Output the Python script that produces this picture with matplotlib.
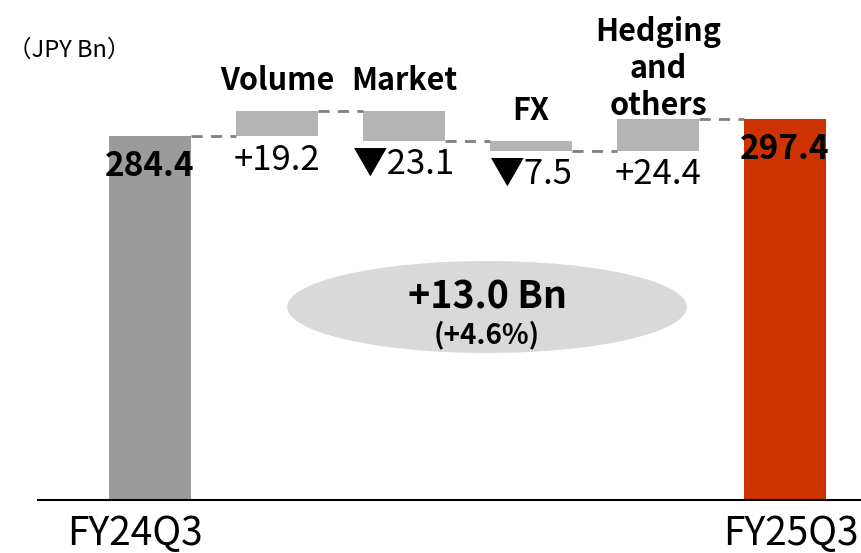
import matplotlib
matplotlib.use('Agg')
import matplotlib.pyplot as plt
from matplotlib.patches import Ellipse

plt.rcParams['font.family'] = ['Noto Sans CJK JP', 'DejaVu Sans']

# data
start_label = 'FY24Q3'
end_label = 'FY25Q3'
start_value = 284.4
end_value = 297.4
steps = ['Volume', 'Market', 'FX', 'Hedging\nand\nothers']
deltas = [19.2, -23.1, -7.5, 24.4]
total_change = '+13.0 Bn'
total_pct = '(+4.6%)'
unit = '（JPY Bn）'

GRAY_BASE = '#9b9b9b'
GRAY_STEP = '#b4b4b4'
RED = '#cc3300'
WIDTH = 0.645

fig = plt.figure(figsize=(8.62, 5.53), dpi=100)
ax = fig.add_axes([38 / 862, 53 / 553, 824 / 862, 500 / 553])

n = len(steps) + 2
ax.set_xlim(-0.882, n - 1 + 0.606)
ax.set_ylim(0, 390.6)

# start / end bars
ax.bar(0, start_value, width=WIDTH, color=GRAY_BASE)
ax.bar(n - 1, end_value, width=WIDTH, color=RED)
for x, v in [(0, start_value), (n - 1, end_value)]:
    ax.annotate(f'{v:.1f}', (x, v), xytext=(0, -10), textcoords='offset points',
                ha='center', va='top', fontsize=24, fontweight='bold', color='black')

# step bars
level = start_value
levels = [level]
cat_pad = [10, 10, 10, -2]
for i, (name, d) in enumerate(zip(steps, deltas)):
    x = i + 1
    bottom = level if d >= 0 else level + d
    ax.bar(x, abs(d), bottom=bottom, width=WIDTH, color=GRAY_STEP)
    level += d
    levels.append(level)
    top = bottom + abs(d)
    ax.annotate(name, (x, top), xytext=(0, cat_pad[i]), textcoords='offset points',
                ha='center', va='bottom', fontsize=22, fontweight='bold',
                linespacing=1.2)
    txt = f'+{d:.1f}' if d >= 0 else f'▼{abs(d):.1f}'
    ax.annotate(txt, (x, bottom), xytext=(0, -5), textcoords='offset points',
                ha='center', va='top', fontsize=25)

# dashed connectors
for i in range(n - 1):
    ax.plot([i + WIDTH / 2, i + 1 - WIDTH / 2], [levels[i], levels[i]],
            color='#808080', linestyle=(0, (4, 3)), linewidth=2)

# summary ellipse
ax.add_patch(Ellipse((0.545, 0.386), 0.485, 0.184, transform=ax.transAxes,
                     facecolor='#d9d9d9', edgecolor='none'))
ax.text(0.545, 0.406, total_change, transform=ax.transAxes, ha='center',
        va='center', fontsize=27, fontweight='bold')
ax.text(0.545, 0.33, total_pct, transform=ax.transAxes, ha='center',
        va='center', fontsize=20, fontweight='bold')

fig.text(8 / 862, 1 - 50 / 553, unit, ha='left', va='center', fontsize=17)

# category labels under the axis
ax.annotate(start_label, (0, 0), xytext=(-11, -10), textcoords='offset points',
            ha='center', va='top', fontsize=28)
ax.annotate(end_label, (n - 1, 0), xytext=(4, -10), textcoords='offset points',
            ha='center', va='top', fontsize=28)

for s in ['top', 'right', 'left']:
    ax.spines[s].set_visible(False)
ax.spines['bottom'].set_linewidth(1.5)
ax.set_yticks([])
ax.set_xticks([])

fig.savefig('out.png', dpi=100)
